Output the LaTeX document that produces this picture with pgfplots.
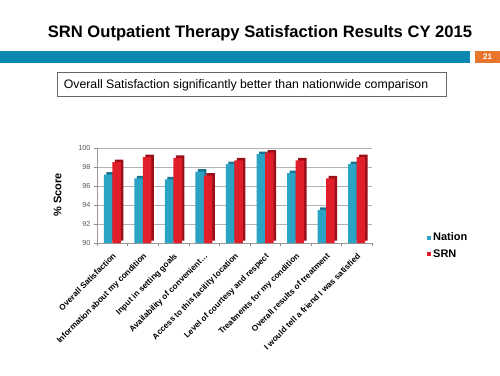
\documentclass[border=0pt]{standalone}
\usepackage{pgfplots}
\pgfplotsset{compat=1.18}
\usepackage{fontspec}
\setmainfont{Liberation Sans}
\definecolor{nation}{HTML}{2BA3C4}
\definecolor{nationdark}{HTML}{1A7690}
\definecolor{srn}{HTML}{E01F2B}
\definecolor{srndark}{HTML}{9A1018}
\definecolor{band}{HTML}{0B88B0}
\definecolor{orangebox}{HTML}{E8752B}
\begin{document}
\begin{tikzpicture}[x=1pt,y=1pt]
\path[use as bounding box, fill=white] (0,0) rectangle (500,375);
\node[font=\bfseries\fontsize{16.6}{18}\selectfont, anchor=base] at (260,337.7) {SRN Outpatient Therapy Satisfaction Results CY 2015};
\fill[band] (0,311.7) rectangle (470,324.3);
\fill[orangebox] (475,311.7) rectangle (500,324.3);
\node[font=\bfseries\fontsize{8}{9}\selectfont, text=white] at (487.5,318) {21};
\draw[black!60, line width=0.8pt] (57,279) rectangle (446,302.7);
\node[font=\fontsize{12.3}{14}\selectfont, anchor=base] at (246,286.5) {Overall Satisfaction significantly better than nationwide comparison};
\node[font=\bfseries\fontsize{11}{13}\selectfont, rotate=90] at (57.5,180) {\% Score};
\begin{axis}[
  at={(97pt,132pt)}, anchor=south west,
  width=275pt, height=95pt, scale only axis,
  ybar,
  ymin=90, ymax=100, ytick={90,92,94,96,98,100},
  xmin=-0.5, xmax=8.5,
  xtick={0,1,2,3,4,5,6,7,8},
  xticklabels={{Overall Satisfaction}, {Information about my condition}, {Input in setting goals}, {Availability of convenient\ldots}, {Access to this facility location}, {Level of courtesy and respect}, {Treatments for my condition}, {Overall results of treatment}, {I would tell a friend I was satisfied}},
  minor xtick={-0.5,0.5,1.5,2.5,3.5,4.5,5.5,6.5,7.5,8.5},
  major x tick style={draw=none},
  minor tick length=3pt,
  minor x tick style={black!45},
  major y tick style={black!45},
  major tick length=3pt,
  axis x line*=bottom, axis y line*=left,
  axis line style={black!40},
  ymajorgrids, grid style={black!30},
  tick align=outside,
  /pgf/number format/assume math mode=true,
  yticklabel style={font=\fontsize{7.3}{8}\selectfont, text=black!65},
  xticklabel shift=5pt,
  xticklabel style={font=\bfseries\fontsize{8.2}{9}\selectfont, rotate=45, anchor=north east, inner sep=1pt},
  legend style={at={(1.2,-0.03)}, anchor=west, draw=none, fill=none, font=\bfseries\fontsize{11}{13}\selectfont, row sep=3pt, inner sep=0pt},
  legend cell align=left,
  legend image code/.code={\fill[#1] (1pt,-2pt) rectangle (5pt,2pt);},
]
\addplot[forget plot, bar width=8.5pt, bar shift=-4.25pt, fill=nationdark, draw=none, xshift=2.5pt, yshift=2.5pt] coordinates {(0,97.2) (1,96.8) (2,96.7) (3,97.5) (4,98.3) (5,99.35) (6,97.35) (7,93.5) (8,98.3)};
\addplot[bar width=8.5pt, bar shift=-4.25pt, fill=nation, draw=none] coordinates {(0,97.2) (1,96.8) (2,96.7) (3,97.5) (4,98.3) (5,99.35) (6,97.35) (7,93.5) (8,98.3)};
\addlegendentry{Nation}
\addplot[forget plot, bar width=8.5pt, bar shift=4.25pt, fill=srndark, draw=none, xshift=2.5pt, yshift=2.5pt] coordinates {(0,98.5) (1,99.05) (2,98.95) (3,97.1) (4,98.7) (5,99.5) (6,98.7) (7,96.8) (8,99.05)};
\addplot[bar width=8.5pt, bar shift=4.25pt, fill=srn, draw=none] coordinates {(0,98.5) (1,99.05) (2,98.95) (3,97.1) (4,98.7) (5,99.5) (6,98.7) (7,96.8) (8,99.05)};
\addlegendentry{SRN}
\end{axis}
\end{tikzpicture}
\end{document}
